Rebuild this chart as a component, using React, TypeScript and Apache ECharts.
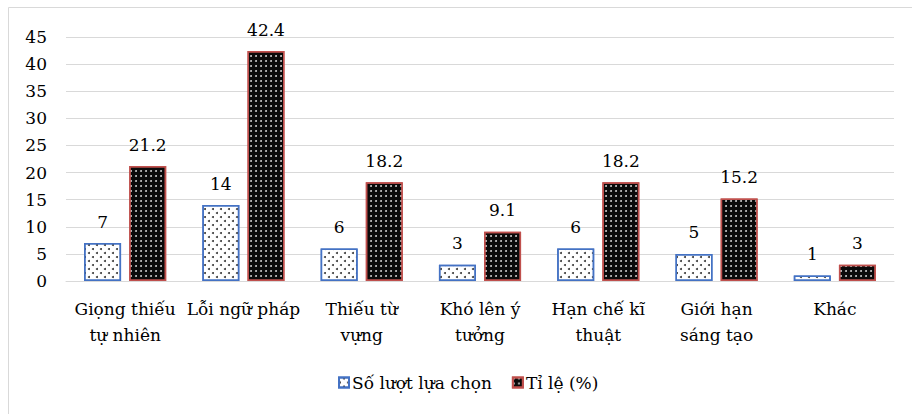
import React, { useEffect, useRef } from "react";
import * as echarts from "echarts";

const categories = [
  "Giọng thiếu\ntự nhiên",
  "Lỗi ngữ pháp",
  "Thiếu từ\nvựng",
  "Khó lên ý\ntưởng",
  "Hạn chế kĩ\nthuật",
  "Giới hạn\nsáng tạo",
  "Khác",
];
const countValues = [7, 14, 6, 3, 6, 5, 1];
const percentValues = [21.2, 42.4, 18.2, 9.1, 18.2, 15.2, 3];
const seriesNames = ["Số lượt lựa chọn", "Tỉ lệ (%)"];

const FONT = "DejaVu Serif";
const FONT_SIZE = 17;

export default function App() {
  const ref = useRef<HTMLDivElement>(null);

  useEffect(() => {
    if (!ref.current) return;
    const chart = echarts.init(ref.current, undefined, { renderer: "svg" });
    const labelStyle = {
      show: true,
      position: "top" as const,
      distance: 13,
      color: "#000",
      fontFamily: FONT,
      fontSize: FONT_SIZE,
    };
    chart.setOption({
      animation: false,
      backgroundColor: "#fff",
      textStyle: { fontFamily: FONT },
      graphic: [
        {
          type: "rect",
          shape: { x: 8.5, y: 7.5, width: 960, height: 460 },
          style: { fill: "none", stroke: "#d9d9d9", lineWidth: 1 },
          silent: true,
          z: -1,
        },
      ],
      grid: { left: 66, right: 18, top: 37, bottom: 133 },
      legend: {
        left: 333,
        top: 369,
        itemWidth: 10,
        itemHeight: 10,
        itemGap: 20,
        icon: "rect",
        textStyle: { fontFamily: FONT, fontSize: FONT_SIZE, color: "#000", padding: [0, 0, 0, -2] },
        data: seriesNames,
      },
      xAxis: {
        type: "category",
        data: categories,
        axisLine: { lineStyle: { color: "#d9d9d9", width: 1 } },
        axisTick: { show: false },
        axisLabel: {
          interval: 0,
          margin: 15,
          color: "#000",
          fontFamily: FONT,
          fontSize: FONT_SIZE,
          lineHeight: 26,
        },
      },
      yAxis: {
        type: "value",
        min: 0,
        max: 45,
        interval: 5,
        axisLine: { show: false },
        axisTick: { show: false },
        splitLine: { lineStyle: { color: "#d9d9d9", width: 1 } },
        axisLabel: {
          margin: 19,
          color: "#000",
          fontFamily: FONT,
          fontSize: FONT_SIZE,
        },
      },
      series: [
        {
          name: seriesNames[0],
          type: "bar",
          data: countValues,
          barWidth: 37,
          barGap: "22%",
          itemStyle: {
            color: "#ffffff",
            borderColor: "#4472c4",
            borderWidth: 1.5,
            decal: {
              symbol: "circle",
              symbolSize: 1,
              color: "#3a3a3a",
              dashArrayX: [
                [2, 6],
                [0, 4, 2, 2],
              ],
              dashArrayY: [2, 2],
              rotation: 0,
            },
          },
          label: labelStyle,
        },
        {
          name: seriesNames[1],
          type: "bar",
          data: percentValues,
          barWidth: 37,
          itemStyle: {
            color: "#0a0a0a",
            borderColor: "#c0504d",
            borderWidth: 1.5,
            decal: {
              symbol: "circle",
              symbolSize: 0.9,
              color: "#d8d8d8",
              dashArrayX: [2, 2.5],
              dashArrayY: [2, 2.5],
              rotation: 0,
            },
          },
          label: labelStyle,
        },
      ],
    });
    return () => chart.dispose();
  }, []);

  return (
    <div
      ref={ref}
      style={{ position: "fixed", left: 0, top: 0, width: 912, height: 414 }}
    />
  );
}
